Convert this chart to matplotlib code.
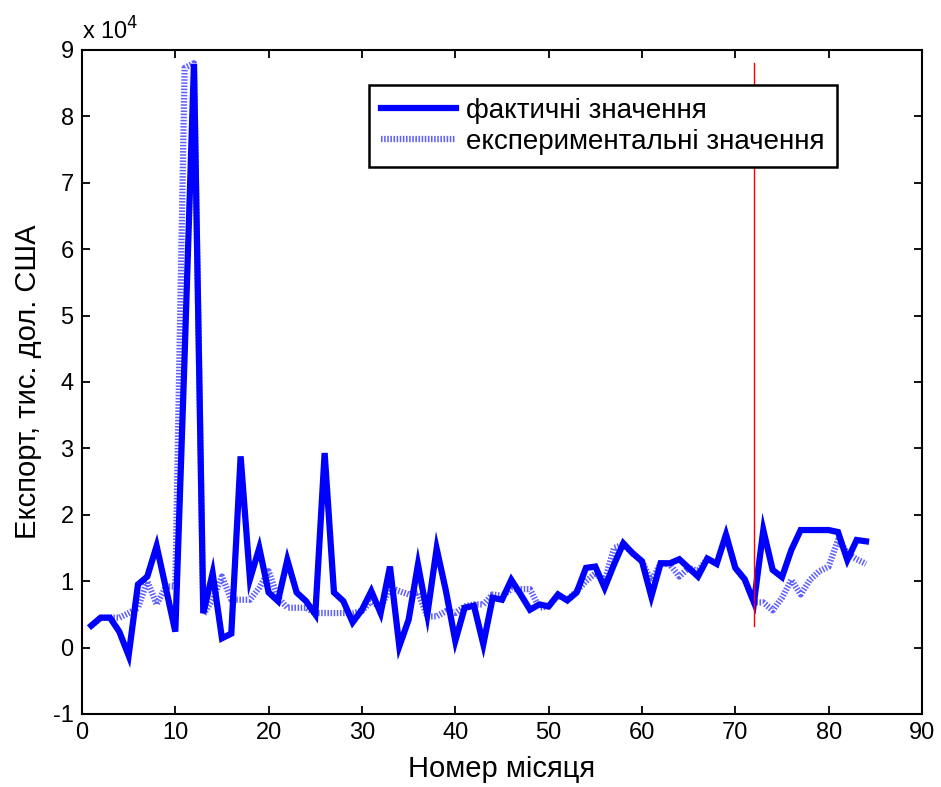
import matplotlib
matplotlib.use("Agg")
import matplotlib.pyplot as plt
import numpy as np

plt.rcParams['font.family'] = ['Liberation Sans', 'DejaVu Sans']
plt.rcParams['axes.unicode_minus'] = False

months = list(range(1, 85))

# Фактичні значення (x 10^4 тис. дол. США)
actual = [0.33, 0.45, 0.45, 0.24, -0.12, 0.95, 1.07, 1.53, 0.89, 0.24,
          4.4, 8.79, 0.52, 1.12, 0.14, 0.21, 2.88, 1.03, 1.5, 0.83,
          0.7, 1.32, 0.83, 0.7, 0.5, 2.93, 0.83, 0.7, 0.38, 0.57,
          0.85, 0.52, 1.22, 0.02, 0.42, 1.25, 0.5, 1.49, 0.85, 0.1,
          0.6, 0.63, 0.05, 0.75, 0.72, 1.02, 0.8, 0.57, 0.65, 0.62,
          0.8, 0.71, 0.83, 1.2, 1.22, 0.9, 1.25, 1.57, 1.42, 1.3,
          0.77, 1.27, 1.27, 1.33, 1.2, 1.07, 1.34, 1.26, 1.7, 1.2,
          1.03, 0.68, 1.77, 1.17, 1.06, 1.47, 1.77, 1.77, 1.77, 1.77,
          1.74, 1.32, 1.62, 1.6]

# Експериментальні значення
experimental = [0.33, 0.45, 0.45, 0.45, 0.52, 0.6, 1.0, 0.65, 0.92, 0.92,
                8.73, 8.8, 0.5, 0.72, 1.07, 0.72, 0.72, 0.72, 0.9, 1.15,
                0.75, 0.6, 0.6, 0.6, 0.52, 0.52, 0.52, 0.52, 0.52, 0.55,
                0.7, 0.6, 0.9, 0.85, 0.8, 0.83, 0.47, 0.47, 0.55, 0.52,
                0.62, 0.65, 0.65, 0.8, 0.78, 0.88, 0.88, 0.88, 0.6, 0.62,
                0.78, 0.72, 0.85, 1.0, 1.12, 1.0, 1.5, 1.55, 1.42, 1.3,
                1.0, 1.27, 1.25, 1.07, 1.2, 1.15, 1.34, 1.27, 1.7, 1.2,
                1.02, 0.68, 0.68, 0.56, 0.75, 1.02, 0.8, 1.02, 1.15, 1.22,
                1.62, 1.42, 1.33, 1.26]

split_month = 72
split_range = [0.32, 8.8]

xticks = list(range(0, 91, 10))
yticks = list(range(-1, 10))

fig = plt.figure(figsize=(9.41, 7.87), dpi=100)
ax = fig.add_axes([0.0871, 0.0928, 0.8927, 0.8437])

ax.plot(months, actual, color='#0000ff', lw=4.5, solid_joinstyle='miter',
        label='фактичні значення', zorder=3)
ax.plot(months, experimental, color='#3a3aff', lw=4.5,
        linestyle=(0, (0.25, 0.25)), alpha=0.8,
        label='експериментальні значення', zorder=2)
ax.plot([split_month, split_month], split_range, color='red', lw=1, zorder=4)

ax.set_xlim(0, 90)
ax.set_ylim(-1, 9)
ax.set_xticks(xticks)
ax.set_yticks(yticks)
ax.tick_params(direction='in', top=True, right=True, length=6, width=1.3,
               labelsize=17, pad=6)
for s in ax.spines.values():
    s.set_linewidth(1.5)

ax.set_xlabel('Номер місяця', fontsize=21, labelpad=8)
ax.set_ylabel('Експорт, тис. дол. США', fontsize=21, labelpad=8)
ax.text(0.0, 1.008, 'x 10$^4$', transform=ax.transAxes, fontsize=17,
        ha='left', va='bottom')

leg = ax.legend(loc='upper right', bbox_to_anchor=(0.899, 0.947),
                fontsize=20, frameon=True, fancybox=False, framealpha=1,
                edgecolor='black', handlelength=2.7, borderpad=0.45,
                labelspacing=0.18, handletextpad=0.35, borderaxespad=0)
leg.get_frame().set_linewidth(1.8)

fig.savefig('out.png', dpi=100)
